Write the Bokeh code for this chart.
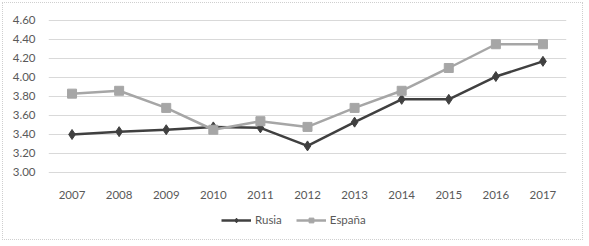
from bokeh.plotting import figure
from bokeh.models import Legend, LegendItem, FixedTicker, Range1d
from bokeh.embed import file_html
from bokeh.resources import INLINE

years = [2007, 2008, 2009, 2010, 2011, 2012, 2013, 2014, 2015, 2016, 2017]
rusia = [3.40, 3.43, 3.45, 3.48, 3.47, 3.28, 3.53, 3.77, 3.77, 4.01, 4.17]
espana = [3.83, 3.86, 3.68, 3.45, 3.54, 3.48, 3.68, 3.86, 4.10, 4.35, 4.35]
y_ticks = [3.0, 3.2, 3.4, 3.6, 3.8, 4.0, 4.2, 4.4, 4.6]
y_labels = {t: f"{t:.2f}" for t in y_ticks}

FONT = "Lato"
TXT = "#595959"

p = figure(width=581, height=238, output_backend="svg", toolbar_location=None,
           x_range=Range1d(2006.5, 2017.5), y_range=Range1d(2.3053, 4.642),
           min_border_left=45, min_border_right=18, min_border_top=13, min_border_bottom=3,
           margin=(2, 0, 0, 2), styles={"border": "1px dotted #cfcfcf"})
p.outline_line_color = None
p.background_fill_color = "white"
p.border_fill_color = "white"

p.xaxis.ticker = FixedTicker(ticks=years)
p.xaxis.fixed_location = 3.0
p.yaxis.ticker = FixedTicker(ticks=y_ticks)
p.yaxis.major_label_overrides = y_labels
for ax in (p.xaxis, p.yaxis):
    ax.axis_line_color = None
    ax.major_tick_line_color = None
    ax.minor_tick_line_color = None
    ax.major_label_text_font = FONT
    ax.major_label_text_font_size = "11.5px"
    ax.major_label_text_color = TXT
p.xaxis.major_label_standoff = 13
p.yaxis.major_label_standoff = 7
p.xgrid.grid_line_color = None
p.ygrid.grid_line_color = "#d9d9d9"
p.ygrid.grid_line_width = 1

r1 = p.line(years, rusia, line_color="#404040", line_width=2.5)
s1 = p.scatter(years, rusia, marker="diamond", size=10, fill_color="#404040", line_color="#404040")
r2 = p.line(years, espana, line_color="#a6a6a6", line_width=2.5)
s2 = p.scatter(years, espana, marker="square", size=9, fill_color="#a6a6a6", line_color="#a6a6a6")

legend = Legend(items=[LegendItem(label="Rusia", renderers=[r1, s1]),
                       LegendItem(label="España", renderers=[r2, s2])],
                orientation="horizontal", location=(173, 12),
                label_text_font=FONT, label_text_font_size="11.5px", label_text_color=TXT,
                glyph_width=30, glyph_height=12, spacing=14, label_standoff=4,
                background_fill_alpha=0, border_line_color=None, padding=0, margin=0)
p.add_layout(legend, "center")

open("out.html", "w").write(file_html(p, INLINE))
